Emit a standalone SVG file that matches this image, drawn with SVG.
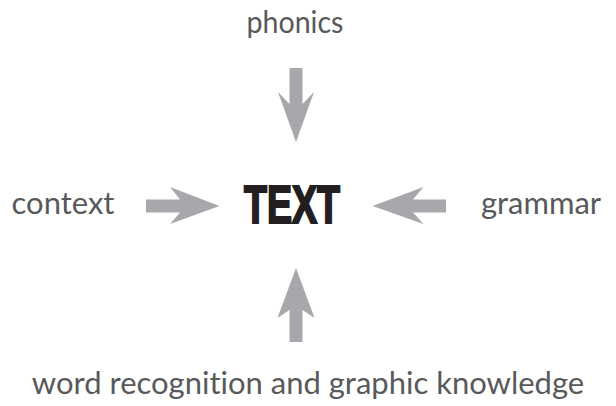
<svg xmlns="http://www.w3.org/2000/svg" width="616" height="406" viewBox="0 0 616 406">
<style>
.lbl{font-family:Lato,"Open Sans",sans-serif;font-size:31px;fill:#58595b;font-variant-ligatures:none}
.arr{fill:#a7a8ab}
.big{font-family:"Liberation Sans Narrow","Liberation Sans",sans-serif;font-weight:bold;font-size:53px;fill:#231f20;stroke:#231f20;stroke-width:2.2}
</style>
<rect width="616" height="406" fill="#fff"/>
<g id="phonics"><text class="lbl" x="295" y="33" text-anchor="middle" textLength="97" lengthAdjust="spacingAndGlyphs">phonics</text></g>
<g id="context"><text class="lbl" x="63" y="214" text-anchor="middle">context</text></g>
<g id="grammar"><text class="lbl" x="541" y="214" text-anchor="middle">grammar</text></g>
<g id="word"><text class="lbl" x="308" y="394" text-anchor="middle">word recognition and graphic knowledge</text></g>
<g id="text"><text class="big" x="292" y="222.5" text-anchor="middle" textLength="96" lengthAdjust="spacingAndGlyphs">TEXT</text></g>
<g id="connectors">
<polygon class="arr" points="289.5,68 302.5,68 302.5,104 314,92 296,142 278,92 289.5,104"/>
<polygon class="arr" points="289.5,342 302.5,342 302.5,310 314.5,318 296,268 277.5,318 289.5,310"/>
<polygon class="arr" points="146,199.5 146,212.5 180,212.5 170,224 219.5,206 170,187 180,199.5"/>
<polygon class="arr" points="446,199.5 446,212.5 413,212.5 423.5,224 372.5,206 423.5,187 413,199.5"/>
</g>
</svg>
